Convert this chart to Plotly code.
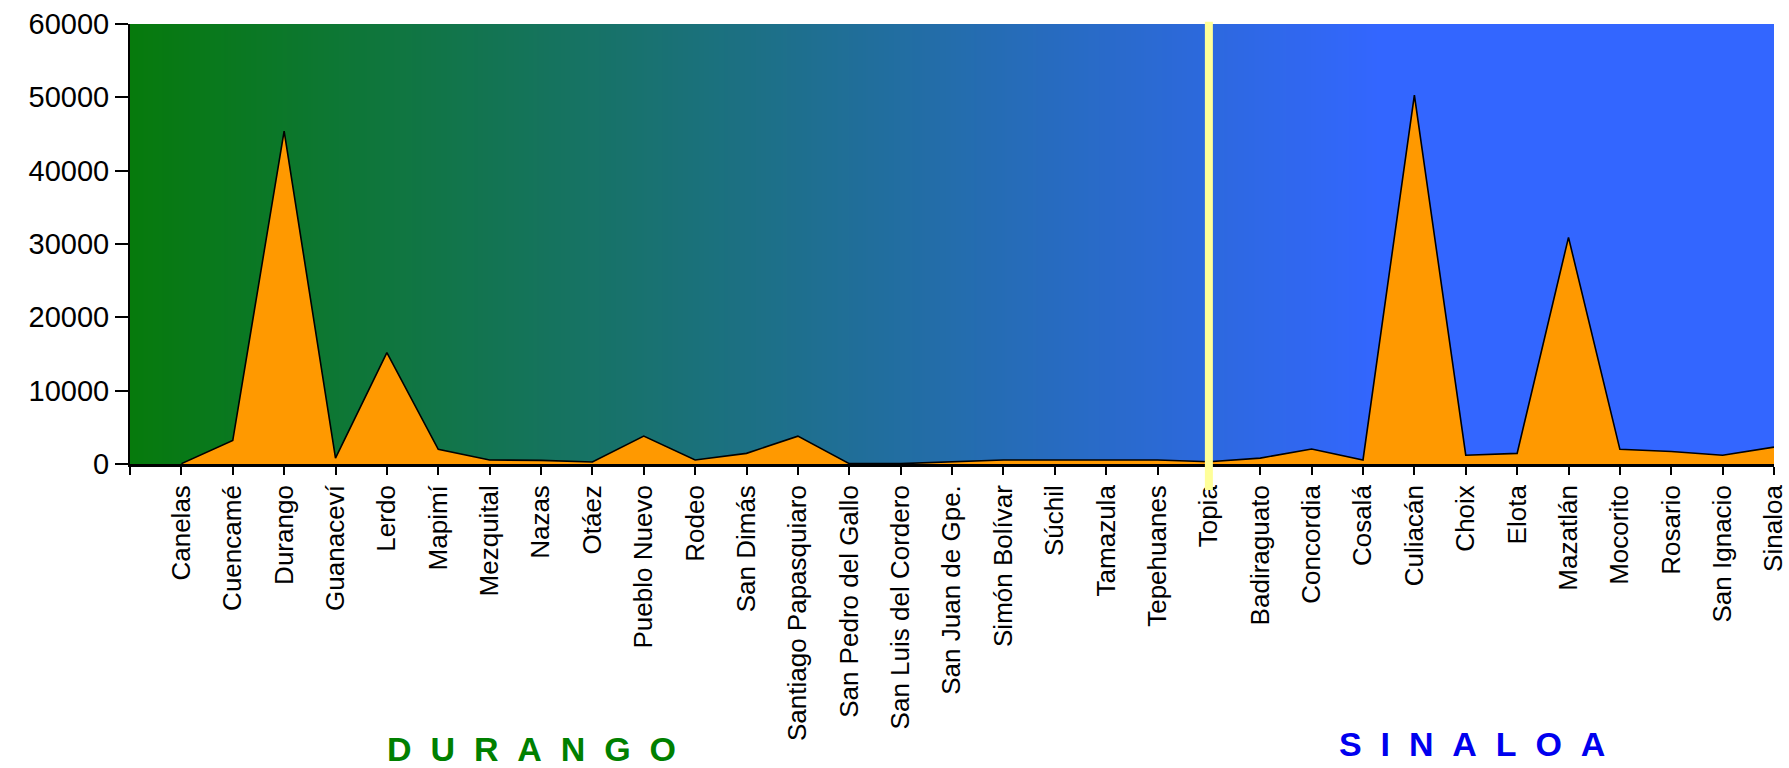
import plotly.graph_objects as go

municipios = ["Canelas", "Cuencamé", "Durango", "Guanaceví", "Lerdo", "Mapimí", "Mezquital",
              "Nazas", "Otáez", "Pueblo Nuevo", "Rodeo", "San Dimás", "Santiago Papasquiaro",
              "San Pedro del Gallo", "San Luis del Cordero", "San Juan de Gpe.", "Simón Bolívar",
              "Súchil", "Tamazula", "Tepehuanes", "Topia", "Badiraguato", "Concordia", "Cosalá",
              "Culiacán", "Choix", "Elota", "Mazatlán", "Mocorito", "Rosario", "San Ignacio", "Sinaloa"]
valores = [50, 3200, 45400, 800, 15200, 2000, 550,
           500, 270, 3800, 550, 1450, 3800,
           50, 50, 300, 550,
           550, 550, 550, 300, 800, 2050, 550,
           50300, 1200, 1450, 30900, 2000, 1700, 1200, 2300]
y_ticks = [0, 10000, 20000, 30000, 40000, 50000, 60000]
y_ticktext = ["0", "10000", "20000", "30000", "40000", "50000", "60000"]
divisor = "Topia"
estados = ["D  U  R  A  N  G  O", "S  I  N  A  L  O  A"]
estado_colores = ["#008000", "#0000ee"]

n = len(municipios)
xs = list(range(n))
font_family = "Liberation Sans, Arial, sans-serif"

fig = go.Figure()

# gradient background
grad_x = list(range(-1, n))
fig.add_trace(go.Heatmap(
    x=grad_x, y=[0, 60000], z=[grad_x, grad_x],
    colorscale=[[0, "#067a0c"], [0.76, "#3366ff"], [1, "#3366ff"]],
    zsmooth="best", showscale=False, hoverinfo="skip",
))

fig.add_trace(go.Scatter(
    x=xs, y=valores, mode="lines", fill="tozeroy",
    fillcolor="#ff9900", line=dict(color="black", width=1.6),
    hovertext=municipios, showlegend=False,
))

tickvals = [-1] + xs
ticktext = [""] + municipios

fig.update_xaxes(
    range=[-1, n - 1], tickmode="array", tickvals=tickvals, ticktext=ticktext,
    tickangle=-90, ticks="outside", ticklen=8, tickwidth=2, tickcolor="black",
    showline=True, linecolor="black", linewidth=2.5, showgrid=False, zeroline=False,
    tickfont=dict(family=font_family, size=26, color="black"), automargin=False,
)
fig.update_yaxes(
    range=[0, 60000], tickmode="array", tickvals=y_ticks, ticktext=y_ticktext,
    ticks="outside", ticklen=13, tickwidth=2, tickcolor="black",
    showline=True, linecolor="black", linewidth=2,
    showgrid=True, gridcolor="white", gridwidth=2, zeroline=False,
    tickfont=dict(family=font_family, size=29, color="black"), automargin=False,
)

fig.add_shape(type="line", xref="x", yref="paper",
              x0=municipios.index(divisor), x1=municipios.index(divisor),
              y0=-0.059, y1=1.005, line=dict(color="#ffff99", width=8), layer="above")

for txt, col, xp, yp in zip(estados, estado_colores, [0.244, 0.816], [-0.647, -0.636]):
    fig.add_annotation(
        text=txt.replace(" ", "\u00a0"), xref="paper", yref="paper", x=xp, y=yp,
        showarrow=False, xanchor="center", yanchor="middle",
        font=dict(family=font_family, size=34, color=col, weight="bold"),
    )

fig.update_layout(
    width=1789, height=768,
    margin=dict(l=130, r=15, t=24, b=304, autoexpand=False),
    paper_bgcolor="white", plot_bgcolor="white",
    showlegend=False,
)

fig.write_html("out.html", config={"displayModeBar": False},
               post_script="document.body.style.margin='0';")
